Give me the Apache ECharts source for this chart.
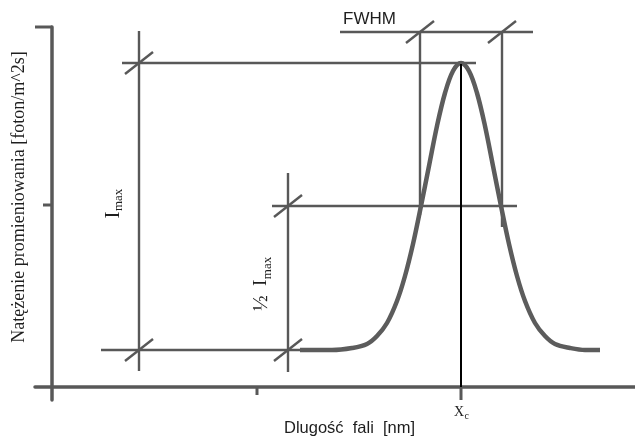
<!DOCTYPE html>
<html><head><meta charset="utf-8">
<script src="https://cdn.jsdelivr.net/npm/echarts@6/dist/echarts.min.js"></script>
<style>html,body{margin:0;padding:0;background:#fff}#c{width:635px;height:436px}</style>
</head><body><div id="c"></div>
<script>
// ---------- data (arbitrary units) ----------
const xRange = [-17, 583];
const yRange = [-13, 360];

const curveX = [248, 280, 300, 315, 325, 335, 345, 353, 361, 369, 377, 385, 393, 401, 409,
                417, 425, 433, 441, 449, 457, 465, 473, 483, 493, 503, 518, 533, 548];
const curveY = [37, 37, 39, 43, 51, 64, 86, 111, 143, 181, 221, 261, 294, 316, 324,
                316, 294, 261, 221, 181, 143, 111, 86, 64, 51, 43, 39, 37, 37];

const xc = 409;          // peak position
const iBase = 37;        // baseline level
const iMax = 324;        // peak level
const iHalf = 181;       // half maximum level
const fwhmLeft = 368, fwhmRight = 450, fwhmBar = 355;

// guide segments [x1, y1, x2, y2]
const guideSegments = [
  [70, iMax, 424, iMax],
  [49, iBase, 248, iBase],
  [87, 356, 87, 16],
  [236, 214, 236, 15],
  [220, iHalf, 465, iHalf],
  [288, fwhmBar, 481, fwhmBar],
  [fwhmLeft, fwhmBar, fwhmLeft, 172],
  [fwhmRight, fwhmBar, fwhmRight, 160]
];
const centerSegment = [[xc, iMax - 1, xc, 0]];
const slashPoints = [[87, iMax], [87, iBase], [236, iHalf], [236, iBase], [fwhmLeft, fwhmBar], [fwhmRight, fwhmBar]];

const xTickValues = [205, xc];
const yTickValues = [360, 182];

const yTitle = 'Natężenie promieniowania [foton/m^2s]';
const xTitle = 'Dlugość  fali  [nm]';
const fwhmText = 'FWHM';
const xcLabel = ['X', 'c'];
const imaxLabel = ['I', 'max'];
const halfLabel = ['½', 'I', 'max'];

// ---------- styles ----------
const GRAY = '#585858';
const TXT = '#1e1e1e';
const SERIF = '"Liberation Serif", "Times New Roman", serif';
const SANS = '"Liberation Sans", Arial, sans-serif';
const xTickLen = [8, 13];
const yTickLen = [17, 9];

const chart = echarts.init(document.getElementById('c'), null, {renderer: 'canvas'});

function segRender(color, width) {
  return function (params, api) {
    const p1 = api.coord([api.value(0), api.value(1)]);
    const p2 = api.coord([api.value(2), api.value(3)]);
    return {type: 'line', shape: {x1: p1[0], y1: p1[1], x2: p2[0], y2: p2[1]},
            style: {stroke: color, lineWidth: width}};
  };
}

const axisCommon = {
  type: 'value',
  axisLine: {show: true, onZero: true, lineStyle: {color: GRAY, width: 3.5}},
  axisTick: {show: false}, axisLabel: {show: false}, splitLine: {show: false}
};

chart.setOption({
  animation: false,
  backgroundColor: '#fff',
  grid: {left: 35, right: 0, top: 27, bottom: 36, outerBoundsMode: 'none', containLabel: false},
  xAxis: Object.assign({}, axisCommon, {min: xRange[0], max: xRange[1]}),
  yAxis: Object.assign({}, axisCommon, {min: yRange[0], max: yRange[1]}),
  series: [
    {type: 'custom', data: guideSegments, renderItem: segRender(GRAY, 2.4), z: 2, silent: true},
    {type: 'custom', data: xTickValues.map(v => [v, 0]), z: 2, silent: true,
     renderItem: (params, api) => {
       const p = api.coord([api.value(0), api.value(1)]);
       return {type: 'line', shape: {x1: p[0], y1: p[1], x2: p[0], y2: p[1] + xTickLen[params.dataIndex]},
               style: {stroke: GRAY, lineWidth: 3}};
     }},
    {type: 'custom', data: yTickValues.map(v => [0, v]), z: 2, silent: true,
     renderItem: (params, api) => {
       const p = api.coord([api.value(0), api.value(1)]);
       return {type: 'line', shape: {x1: p[0] - yTickLen[params.dataIndex], y1: p[1], x2: p[0], y2: p[1]},
               style: {stroke: GRAY, lineWidth: 3}};
     }},
    {type: 'custom', data: slashPoints, z: 3, silent: true,
     renderItem: (params, api) => {
       const p = api.coord([api.value(0), api.value(1)]);
       return {type: 'line', shape: {x1: p[0] - 14, y1: p[1] + 11, x2: p[0] + 14, y2: p[1] - 11},
               style: {stroke: GRAY, lineWidth: 2.4}};
     }},
    {type: 'line', data: curveX.map((x, i) => [x, curveY[i]]), smooth: 0.35, showSymbol: false,
     lineStyle: {color: '#5c5c5c', width: 4.5}, z: 4, silent: true},
    {type: 'custom', data: centerSegment, renderItem: segRender('#000', 2), z: 5, silent: true}
  ]
});

// ---------- text labels ----------
const ctx = document.createElement('canvas').getContext('2d');
function tw(t, f) { ctx.font = f; return ctx.measureText(t).width; }
const P = (x, y) => chart.convertToPixel({gridIndex: 0}, [x, y]);
function txt(x, y, text, font, align) {
  return {type: 'text', x: x, y: y,
          style: {text: text, font: font, fill: TXT, textAlign: align || 'left', textVerticalAlign: 'middle',
                  align: align || 'left', verticalAlign: 'middle'}};
}

const fI1 = '21px ' + SERIF, fS1 = '13px ' + SERIF;
const imaxA = P(87, (iBase + iMax) / 2);
const imaxG = {type: 'group', x: imaxA[0] - 26, y: imaxA[1] + 12, rotation: Math.PI / 2,
  children: [txt(0, 0, imaxLabel[0], fI1), txt(tw('I', fI1) + 0.5, 5.5, imaxLabel[1], fS1)]};

const fH = '21px ' + SERIF, fI2 = '19px ' + SERIF, fS2 = '13px ' + SERIF;
const halfA = P(236, (iBase + iHalf) / 2);
const halfG = {type: 'group', x: halfA[0] - 27, y: halfA[1] + 33, rotation: Math.PI / 2,
  children: [txt(0, 0, halfLabel[0], fH), txt(25, 0, halfLabel[1], fI2),
             txt(25 + tw('I', fI2) + 0.5, 7, halfLabel[2], fS2)]};

const fX = '14px ' + SERIF, fC = '10px ' + SERIF;
const xcA = P(xc, 0);
const xcG = {type: 'group', x: xcA[0] - 7, y: xcA[1] + 25,
  children: [txt(0, 0, xcLabel[0], fX), txt(tw('X', fX) + 0.5, 4.5, xcLabel[1], fC)]};

const fA = P(288, fwhmBar);
const fwhmG = txt(fA[0] + 3, fA[1] - 13, fwhmText, '17px ' + SANS);

const xTitleG = txt(284, 428, xTitle, '16.5px ' + SANS);
const yTitleG = {type: 'group', x: 19.5, y: 197, rotation: Math.PI / 2,
  children: [txt(0, 0, yTitle, '18px ' + SERIF, 'center')]};

chart.setOption({graphic: [imaxG, halfG, xcG, fwhmG, xTitleG, yTitleG]});
</script>
</body></html>
